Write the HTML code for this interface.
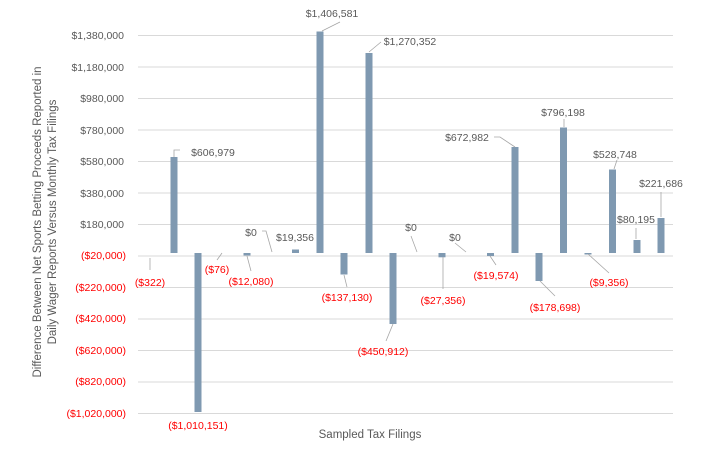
<!DOCTYPE html>
<html><head><meta charset="utf-8"><style>
body{margin:0;background:#fff;}
svg{display:block;font-family:"Liberation Sans",sans-serif;}
.g{fill:#595959;font-size:10.5px;}
.r{fill:#ff0000;font-size:10.5px;}
.l{stroke:#a6a6a6;stroke-width:0.8;fill:none;}
</style></head><body>
<svg width="723" height="450" viewBox="0 0 723 450">
<g stroke="#d9d9d9" stroke-width="1">
<line x1="138" x2="673" y1="35.5" y2="35.5"/>
<line x1="138" x2="673" y1="67" y2="67"/>
<line x1="138" x2="673" y1="98.5" y2="98.5"/>
<line x1="138" x2="673" y1="130" y2="130"/>
<line x1="138" x2="673" y1="161.5" y2="161.5"/>
<line x1="138" x2="673" y1="193" y2="193"/>
<line x1="138" x2="673" y1="224.5" y2="224.5"/>
<line x1="138" x2="673" y1="256" y2="256"/>
<line x1="138" x2="673" y1="287.5" y2="287.5"/>
<line x1="138" x2="673" y1="319" y2="319"/>
<line x1="138" x2="673" y1="350.5" y2="350.5"/>
<line x1="138" x2="673" y1="382" y2="382"/>
<line x1="138" x2="673" y1="413.5" y2="413.5"/>
</g>
<g text-anchor="end">
<text class="g" x="124" y="39">$1,380,000</text>
<text class="g" x="124" y="71">$1,180,000</text>
<text class="g" x="124" y="102">$980,000</text>
<text class="g" x="124" y="134">$780,000</text>
<text class="g" x="124" y="165">$580,000</text>
<text class="g" x="124" y="197">$380,000</text>
<text class="g" x="124" y="228">$180,000</text>
<text class="r" x="126" y="259">($20,000)</text>
<text class="r" x="126" y="291">($220,000)</text>
<text class="r" x="126" y="322">($420,000)</text>
<text class="r" x="126" y="354">($620,000)</text>
<text class="r" x="126" y="385">($820,000)</text>
<text class="r" x="126" y="417">($1,020,000)</text>
</g>
<g fill="#7f99b1">
<rect x="170.5" y="157" width="7" height="96"/>
<rect x="194.5" y="253" width="7" height="159"/>
<rect x="243.5" y="253" width="7" height="2.5"/>
<rect x="292" y="249.5" width="7" height="3.5"/>
<rect x="316.5" y="31.5" width="7" height="221.5"/>
<rect x="340.5" y="253" width="7" height="21.5"/>
<rect x="365.5" y="53" width="7" height="200"/>
<rect x="389.5" y="253" width="7" height="71"/>
<rect x="438.5" y="253" width="7" height="4.3"/>
<rect x="487" y="253" width="7" height="3"/>
<rect x="511.5" y="147" width="7" height="106"/>
<rect x="535.5" y="253" width="7" height="28"/>
<rect x="560" y="127.5" width="7" height="125.5"/>
<rect x="584.5" y="253" width="7" height="1.5"/>
<rect x="609" y="169.5" width="7" height="83.5"/>
<rect x="633.5" y="240" width="7" height="13"/>
<rect x="657.5" y="218" width="7" height="35"/>
</g>
<g class="l">
<polyline points="150,258 150,270"/>
<polyline points="174,157 174,150 180,150"/>
<polyline points="222,253 217,260"/>
<polyline points="247,256 251,271"/>
<polyline points="262,231 266,231 272,252"/>
<polyline points="340,22 322,31"/>
<polyline points="381,42 369,52"/>
<polyline points="344,275 347,287"/>
<polyline points="393,324 386,341"/>
<polyline points="411,236 417,252"/>
<polyline points="443,257 443,289"/>
<polyline points="455,243 466,252"/>
<polyline points="490,256 496,265"/>
<polyline points="494,137 500,137 515,147"/>
<polyline points="540,281 555,296"/>
<polyline points="564,119 564,127"/>
<polyline points="588,254 609,273"/>
<polyline points="617,160 614,169"/>
<polyline points="636,228 636,239"/>
<polyline points="661,192 661,217"/>
</g>
<g text-anchor="middle">
<text class="r" x="150" y="286">($322)</text>
<text class="g" x="213" y="156">$606,979</text>
<text class="r" x="198" y="429">($1,010,151)</text>
<text class="r" x="217" y="273">($76)</text>
<text class="r" x="251" y="285">($12,080)</text>
<text class="g" x="251" y="236">$0</text>
<text class="g" x="295" y="241">$19,356</text>
<text class="g" x="332" y="17">$1,406,581</text>
<text class="g" x="410" y="45">$1,270,352</text>
<text class="r" x="347" y="301">($137,130)</text>
<text class="r" x="383" y="355">($450,912)</text>
<text class="g" x="411" y="231">$0</text>
<text class="r" x="443" y="304">($27,356)</text>
<text class="g" x="455" y="241">$0</text>
<text class="r" x="496" y="279">($19,574)</text>
<text class="g" x="467" y="141">$672,982</text>
<text class="r" x="555" y="311">($178,698)</text>
<text class="g" x="563" y="116">$796,198</text>
<text class="r" x="609" y="286">($9,356)</text>
<text class="g" x="615" y="158">$528,748</text>
<text class="g" x="636" y="223">$80,195</text>
<text class="g" x="661" y="187">$221,686</text>
</g>
<text class="g" x="370" y="438" text-anchor="middle" style="font-size:11.5px">Sampled Tax Filings</text>
<g transform="translate(41,222) rotate(-90)" text-anchor="middle">
<text class="g" x="0" y="0" style="font-size:11.5px">Difference Between Net Sports Betting Proceeds Reported in</text>
<text class="g" x="0" y="15" style="font-size:11.5px">Daily Wager Reports Versus Monthly Tax Filings</text>
</g>
</svg>
</body></html>
